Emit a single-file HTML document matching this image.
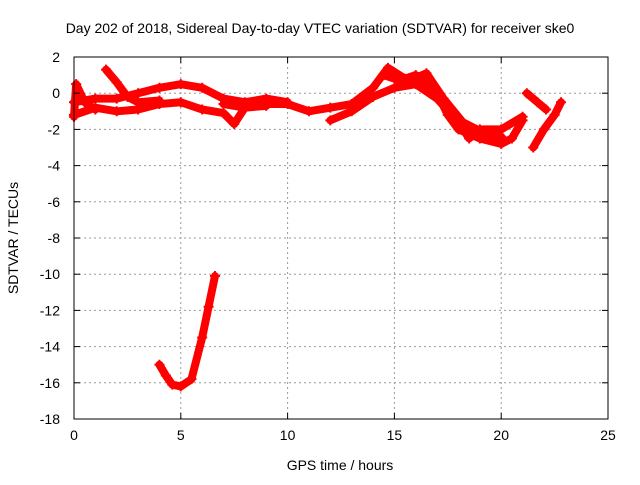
<!DOCTYPE html>
<html><head><meta charset="utf-8"><style>
body{margin:0;background:#fff}
text{font-family:"Liberation Sans",sans-serif;font-size:14px;fill:#000}
</style></head><body>
<svg id="chart" width="640" height="480">
<rect width="640" height="480" fill="#fff"/>
<g id="grid"></g><g id="series"></g>
<rect x="74" y="57" width="534" height="362" fill="none" stroke="#000"/>
<g id="axes"></g>
<text x="320" y="33" text-anchor="middle">Day 202 of 2018, Sidereal Day-to-day VTEC variation (SDTVAR) for receiver ske0</text>
<text x="340" y="470" text-anchor="middle">GPS time / hours</text>
<text x="0" y="0" text-anchor="middle" transform="translate(18,238) rotate(-90)">SDTVAR / TECUs</text>
</svg>
<script>
const xTicks=[0,5,10,15,20,25];
const yTicks=[2,0,-2,-4,-6,-8,-10,-12,-14,-16,-18];
const seriesA=[[0,-0.5],[1,-0.3],[2,-0.3],[3,0],[4,0.3],[5,0.5],[6,0.3],[7,-0.3],[8,-0.5],[9,-0.3],[10,-0.5]];
const seriesB=[[0,-1.2],[1,-0.8],[2,-1.0],[3,-0.9],[4,-0.6],[5,-0.5],[6,-0.9],[7,-1.1],[7.5,-1.7],[8,-0.8],[9,-0.7]];
const seriesC=[[1.5,1.3],[2,0.6],[2.5,-0.2],[3,-0.5],[4,-0.4]];
const seriesD=[[7,-0.6],[8,-0.8],[9,-0.6],[10,-0.6],[11,-1.0],[12,-0.8],[13,-0.6],[14,0.3],[14.7,1.4],[15.5,0.8],[16,1.0],[17,0],[17.5,-1.2],[18,-2],[19,-2.5],[20,-2.8],[20.5,-2.5],[21,-1.5]];
const seriesE=[[12,-1.5],[13,-1.0],[14,-0.2],[15,0.3],[16,0.5],[17,-0.3],[18,-1.6],[18.5,-2.5],[19,-2],[20,-2],[21,-1.3]];
const seriesF=[[21.5,-3.0],[22,-2],[22.5,-1.2],[22.8,-0.5]];
const seriesG=[[21.2,0],[21.7,-0.5],[22.1,-0.9]];
const seriesH=[[4,-15.0],[4.3,-15.6],[4.6,-16.1],[5,-16.2],[5.5,-15.8],[6,-13.5],[6.3,-11.8],[6.6,-10.1]];
const seriesI=[[0,-1.3],[0.1,0.5],[0.5,-0.5],[1,-0.9]];
const seriesJ=[[14.5,1.0],[15.5,0.6],[16.5,1.1],[17.3,-0.3],[18.2,-1.6],[19.2,-2.2],[20,-2.4]];
const allSeries=[seriesA,seriesB,seriesC,seriesD,seriesE,seriesF,seriesG,seriesH,seriesI,seriesJ];
const X0=74,X1=608,Y0=419,Y1=57;
const sx=v=>X0+(v-0)/(25-0)*(X1-X0);
const sy=v=>Y0-(v+18)/20*(Y0-Y1);
const NS="http://www.w3.org/2000/svg";
const mk=(t,a,p)=>{const e=document.createElementNS(NS,t);for(const k in a)e.setAttribute(k,a[k]);p.appendChild(e);return e;};
const grid=document.getElementById('grid'),axes=document.getElementById('axes'),ser=document.getElementById('series');
xTicks.forEach(t=>{const x=sx(t);
 if(t>0&&t<25){const l=mk('line',{x1:x,x2:x,y1:Y1,y2:Y0,stroke:'#999','stroke-dasharray':'2,3'},grid);
 
 }
 mk('line',{x1:x,x2:x,y1:Y0,y2:Y0-6,stroke:'#000'},axes);mk('line',{x1:x,x2:x,y1:Y1,y2:Y1+6,stroke:'#000'},axes);
 const tx=mk('text',{x:x,y:Y0+21,'text-anchor':'middle'},axes);tx.textContent=t;
 
 });
yTicks.forEach(t=>{const y=sy(t);
 if(t>-18&&t<2){const l=mk('line',{x1:X0,x2:X1,y1:y,y2:y,stroke:'#999','stroke-dasharray':'2,3'},grid);
 
 }
 mk('line',{x1:X0,x2:X0+6,y1:y,y2:y,stroke:'#000'},axes);mk('line',{x1:X1,x2:X1-6,y1:y,y2:y,stroke:'#000'},axes);
 const tx=mk('text',{x:X0-14,y:y+5,'text-anchor':'end'},axes);tx.textContent=t;
 
 });
allSeries.forEach((s,i)=>{
 const g=mk('g',{},ser);
 
 
 mk('polyline',{points:s.map(p=>sx(p[0])+','+sy(p[1])).join(' '),fill:'none',stroke:'#f00','stroke-width':8,'stroke-linejoin':'round','stroke-linecap':'round'},g);
 s.forEach(p=>{const x=sx(p[0]),y=sy(p[1]);
  mk('path',{d:`M${x-5},${y}H${x+5}M${x},${y-5}V${y+5}`,stroke:'#f00','stroke-width':2},g);});
});
</script>
</body></html>
